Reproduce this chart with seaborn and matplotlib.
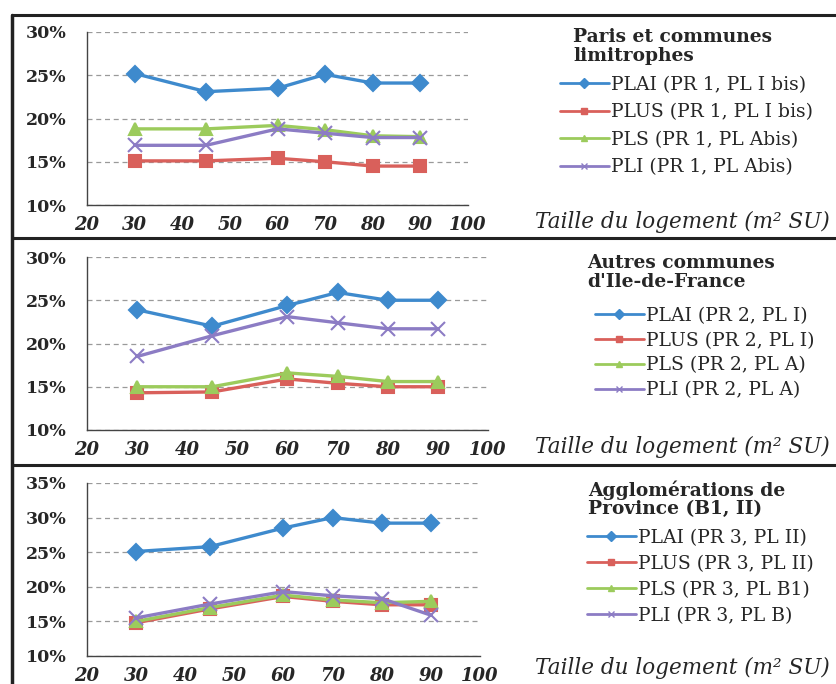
import pandas as pd
import numpy as np
import matplotlib
matplotlib.use("Agg")
import matplotlib.pyplot as plt
import seaborn as sns
from matplotlib.lines import Line2D
from matplotlib.ticker import FuncFormatter

# Tailles de logement (m2 SU)
taille = [30, 45, 60, 70, 80, 90]
series = ["PLAI", "PLUS", "PLS", "PLI"]

# Paris et communes limitrophes
paris_plai = [25.2, 23.1, 23.5, 25.1, 24.1, 24.1]
paris_plus = [15.1, 15.1, 15.4, 15.0, 14.5, 14.5]
paris_pls = [18.8, 18.8, 19.2, 18.7, 18.0, 17.9]
paris_pli = [16.9, 16.9, 18.8, 18.3, 17.8, 17.8]

# Autres communes d'Ile-de-France
idf_plai = [23.9, 22.0, 24.4, 25.9, 25.0, 25.0]
idf_plus = [14.3, 14.4, 15.9, 15.4, 15.0, 15.0]
idf_pls = [15.0, 15.0, 16.6, 16.2, 15.6, 15.6]
idf_pli = [18.5, 20.9, 23.1, 22.4, 21.7, 21.7]

# Agglomerations de province
prov_plai = [25.1, 25.8, 28.5, 30.0, 29.2, 29.2]
prov_plus = [14.8, 16.8, 18.6, 17.9, 17.4, 17.4]
prov_pls = [15.0, 17.0, 18.8, 18.1, 17.7, 17.9]
prov_pli = [15.5, 17.5, 19.3, 18.7, 18.3, 15.9]

titles = ["Paris et communes\nlimitrophes",
          "Autres communes\nd'Ile-de-France",
          "Agglomérations de\nProvince (B1, II)"]
legend_labels = [
    ["PLAI (PR 1, PL I bis)", "PLUS (PR 1, PL I bis)", "PLS (PR 1, PL Abis)", "PLI (PR 1, PL Abis)"],
    ["PLAI (PR 2, PL I)", "PLUS (PR 2, PL I)", "PLS (PR 2, PL A)", "PLI (PR 2, PL A)"],
    ["PLAI (PR 3, PL II)", "PLUS (PR 3, PL II)", "PLS (PR 3, PL B1)", "PLI (PR 3, PL B)"],
]
ymax = [30, 30, 35]
xlabel = "Taille du logement (m² SU)"

panels = [
    [paris_plai, paris_plus, paris_pls, paris_pli],
    [idf_plai, idf_plus, idf_pls, idf_pli],
    [prov_plai, prov_plus, prov_pls, prov_pli],
]

colors = {"PLAI": "#3E8ACD", "PLUS": "#D9605B", "PLS": "#9CCB5C", "PLI": "#8C7CC4"}
markers = {"PLAI": "D", "PLUS": "s", "PLS": "^", "PLI": "x"}
msize = {"PLAI": 8, "PLUS": 9, "PLS": 9, "PLI": 10}

sns.set_style("white")
plt.rcParams["font.family"] = ["DejaVu Serif"]

W, H = 837, 684
fig = plt.figure(figsize=(W / 100, H / 100), dpi=100)


def rect(x0, y0, x1, y1):
    # pixel box (from top-left) -> figure fraction
    return [x0 / W, 1 - y1 / H, (x1 - x0) / W, (y1 - y0) / H]


# axes boxes in pixels: (left, top, right, bottom)
boxes = [(87, 32, 468, 205), (87, 257, 488, 430), (87, 483, 480, 656)]
xlab_y = [222, 447, 668]
title_pos = [(573, 28), (587, 254), (588, 480)]
leg_pos = [(560, 76), (595, 307), (587, 529)]
leg_space = [0.5, 0.36, 0.42]

for i, (box, vals) in enumerate(zip(boxes, panels)):
    ax = fig.add_axes(rect(*box))
    for name, v in zip(series, vals):
        df = pd.DataFrame({"taille": taille, "taux": v})
        sns.lineplot(data=df, x="taille", y="taux", ax=ax, color=colors[name],
                     lw=2.4, marker=markers[name], markersize=msize[name],
                     markeredgecolor=colors[name], markeredgewidth=1.5)
    ax.set_xlim(20, 100)
    ax.set_ylim(10, ymax[i])
    ax.set_xticks(range(20, 101, 10))
    ax.set_yticks(range(10, ymax[i] + 1, 5))
    ax.yaxis.set_major_formatter(FuncFormatter(lambda v, p: f"{v:.0f}%"))
    ax.grid(axis="y", ls=(0, (4, 3)), color="#9A9A9A", lw=0.9)
    ax.set_xlabel("")
    ax.set_ylabel("")
    for s in ["top", "right"]:
        ax.spines[s].set_visible(False)
    for s in ["left", "bottom"]:
        ax.spines[s].set_color("#444444")
        ax.spines[s].set_linewidth(1.0)
    ax.tick_params(axis="y", direction="inout", length=7, width=1, color="#444444",
                   pad=11, labelsize=12.5)
    ax.tick_params(axis="x", direction="out", length=4, width=1, color="#444444",
                   pad=4, labelsize=13)
    for t in ax.get_yticklabels():
        t.set_fontweight("bold")
    for t in ax.get_xticklabels():
        t.set_fontweight("bold")
        t.set_fontstyle("italic")
    ax.set_facecolor("none")

    fig.text(535 / W, 1 - xlab_y[i] / H, xlabel, fontsize=15.5, style="italic",
             va="center", ha="left")
    tx, ty = title_pos[i]
    fig.text(tx / W, 1 - ty / H, titles[i], fontsize=13.4, fontweight="bold",
             va="top", ha="left", linespacing=1.05)

    handles = [Line2D([], [], color=colors[n], lw=2, marker=markers[n], markersize=5,
                      markeredgecolor=colors[n]) for n in series]
    lx, ly = leg_pos[i]
    fig.legend(handles, legend_labels[i], loc="upper left",
               bbox_to_anchor=(lx / W, 1 - ly / H), frameon=False, fontsize=13.5,
               handlelength=2.6, handletextpad=0.1, labelspacing=leg_space[i],
               borderpad=0, borderaxespad=0)

# panel frame lines
for y in [15, 238, 465]:
    fig.add_artist(Line2D([12 / W, 1], [1 - y / H, 1 - y / H], color="#222222", lw=2.2))
fig.add_artist(Line2D([12 / W, 12 / W], [1 - 15 / H, 0], color="#222222", lw=2.5))

fig.savefig("out.png", dpi=100)
